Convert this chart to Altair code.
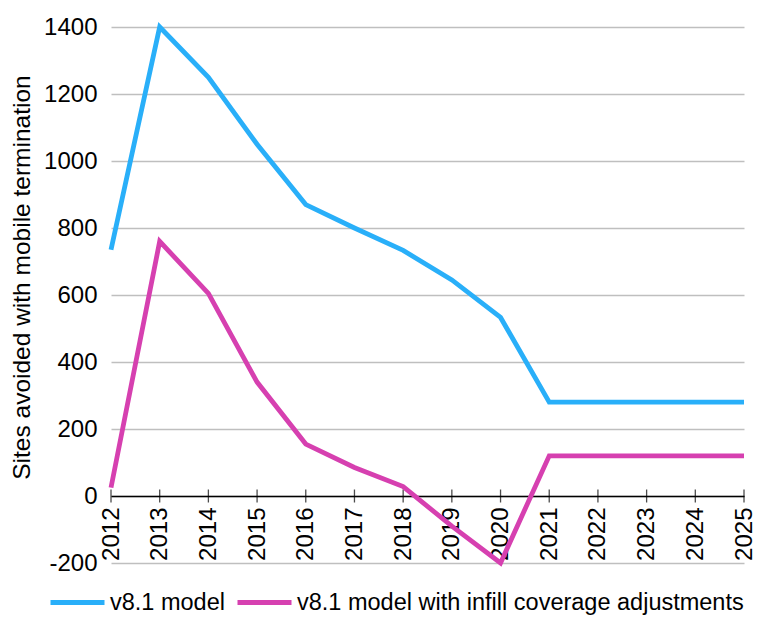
import altair as alt
import pandas as pd

years = list(range(2012, 2026))
series_names = ["v8.1 model", "v8.1 model with infill coverage adjustments"]
v81 = [735, 1400, 1250, 1050, 870, 800, 733, 645, 533, 280, 280, 280, 280, 280]
v81_infill = [25, 760, 605, 340, 155, 85, 28, -90, -200, 120, 120, 120, 120, 120]
y_ticks = [-200, 0, 200, 400, 600, 800, 1000, 1200, 1400]
colors = ["#29AFF9", "#D640B0"]

rows = []
for name, vals in zip(series_names, [v81, v81_infill]):
    for yr, v in zip(years, vals):
        rows.append({"year": yr, "value": v, "series": name})
df = pd.DataFrame(rows)
ticks_df = pd.DataFrame({"year": years, "zero": [0] * len(years)})

FONT = "Liberation Sans"
FS = 24

x_scale = alt.Scale(domain=[2012, 2025], nice=False, zero=False)
y_scale = alt.Scale(domain=[-200, 1400], nice=False)

lines = alt.Chart(df).mark_line(strokeWidth=4.8, strokeCap="butt", strokeJoin="miter").encode(
    x=alt.X("year:Q", scale=x_scale,
            axis=alt.Axis(values=years, labelExpr="'' + datum.value", labelAngle=-90, offset=-67,
                          grid=False, ticks=False, domain=True, domainColor="black",
                          domainWidth=1.3, labelFont=FONT, labelFontSize=FS,
                          labelColor="black", labelPadding=11, title=None)),
    y=alt.Y("value:Q", scale=y_scale,
            axis=alt.Axis(values=y_ticks, labelExpr="'' + datum.value", grid=True,
                          gridColor="#BFBFBF", gridWidth=1.3,
                          domain=False, ticks=False, labelFont=FONT, labelFontSize=FS,
                          labelColor="black", labelPadding=14,
                          title="Sites avoided with mobile termination",
                          titleFont=FONT, titleFontSize=24.5, titleFontWeight="normal",
                          titleColor="black", titlePadding=9, titleY=250)),
    color=alt.Color("series:N", scale=alt.Scale(domain=series_names, range=colors),
                    legend=alt.Legend(orient="none", legendX=-63, legendY=546,
                                      direction="horizontal", title=None,
                                      symbolType="stroke", symbolSize=2916,
                                      symbolStrokeWidth=5, labelFont=FONT,
                                      labelFontSize=23.5, labelColor="black",
                                      labelOffset=3, columnPadding=2,
                                      labelLimit=600)),
)

tick_marks = alt.Chart(ticks_df).mark_tick(orient="vertical", size=13, thickness=1.3,
                                           color="black").encode(
    x=alt.X("year:Q", scale=x_scale),
    y=alt.Y("zero:Q", scale=y_scale),
)

chart = alt.layer(tick_marks, lines).properties(
    width=633, height=536,
    autosize=alt.AutoSizeParams(type="none"),
    padding={"left": 103, "top": 19, "right": 11, "bottom": 55},
).configure_view(stroke=None)

chart.save("out.html", embed_options={"renderer": "svg", "actions": False})
